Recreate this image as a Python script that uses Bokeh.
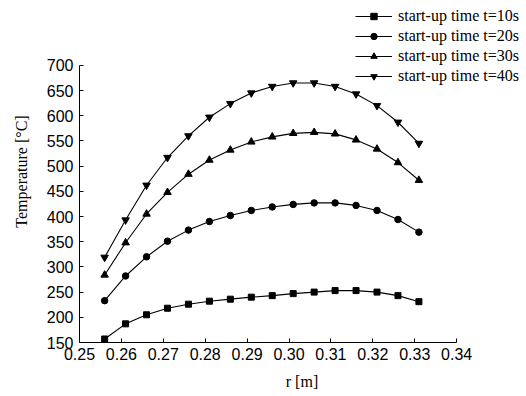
from bokeh.plotting import figure
from bokeh.models import Legend, LegendItem, Range1d, FixedTicker
from bokeh.embed import file_html
from bokeh.resources import INLINE

# ---- data ----
r = [0.256, 0.261, 0.266, 0.271, 0.276, 0.281, 0.286, 0.291,
     0.296, 0.301, 0.306, 0.311, 0.316, 0.321, 0.326, 0.331]
t10 = [157, 187, 205, 218, 226, 232, 236, 240, 243, 247, 250, 253, 253, 250, 243, 231]
t20 = [233, 282, 320, 351, 373, 390, 402, 412, 419, 424, 427, 427, 422, 412, 394, 369]
t30 = [284, 348, 405, 448, 484, 512, 532, 548, 558, 565, 567, 564, 552, 534, 507, 472]
t40 = [319, 393, 462, 517, 560, 597, 624, 645, 658, 665, 665, 658, 643, 620, 587, 545]
series_labels = ["start-up time t=10s", "start-up time t=20s",
                 "start-up time t=30s", "start-up time t=40s"]
markers = ["square", "circle", "triangle", "inverted_triangle"]
x_ticks = [0.25, 0.26, 0.27, 0.28, 0.29, 0.30, 0.31, 0.32, 0.33, 0.34]
x_tick_labels = ["0.25", "0.26", "0.27", "0.28", "0.29", "0.30", "0.31", "0.32", "0.33", "0.34"]
y_ticks = [150, 200, 250, 300, 350, 400, 450, 500, 550, 600, 650, 700]

W, H = 524, 395
p = figure(width=W, height=H, output_backend="svg", toolbar_location=None,
           x_range=Range1d(0.25, 0.3562), y_range=Range1d(150, 828.6),
           min_border_left=79, min_border_right=0, min_border_top=0,
           min_border_bottom=53)
p.outline_line_color = None
p.xgrid.grid_line_color = None
p.ygrid.grid_line_color = None
p.background_fill_color = "white"
p.border_fill_color = "white"

sizes = {"square": 6, "circle": 6.5, "triangle": 7.5, "inverted_triangle": 7.5}
items = []
for ys, lab, mk in zip([t10, t20, t30, t40], series_labels, markers):
    ln = p.line(r, ys, line_color="black", line_width=1.1)
    sc = p.scatter(r, ys, marker=mk, size=sizes[mk], fill_color="black", line_color="black")
    items.append(LegendItem(label=lab, renderers=[ln, sc]))

for ax in (p.xaxis[0], p.yaxis[0]):
    ax.axis_line_color = "black"
    ax.axis_line_width = 1
    ax.major_tick_line_color = "black"
    ax.major_tick_in = 4
    ax.major_tick_out = 0
    ax.minor_tick_line_color = None
    ax.major_label_text_font = "Liberation Sans"
    ax.major_label_text_font_size = "16px"
    ax.major_label_text_color = "black"
    ax.axis_label_text_font = "Liberation Serif"
    ax.axis_label_text_font_size = "16px"
    ax.axis_label_text_font_style = "normal"
    ax.axis_label_text_color = "black"

p.xaxis[0].ticker = FixedTicker(ticks=x_ticks)
p.xaxis[0].major_label_overrides = {t: s for t, s in zip(x_ticks, x_tick_labels)}
p.xaxis[0].bounds = (x_ticks[0], x_ticks[-1])
p.xaxis[0].axis_label = "r [m]"
p.xaxis[0].axis_label_standoff = 10
p.xaxis[0].major_label_standoff = 5

p.yaxis[0].ticker = FixedTicker(ticks=y_ticks)
p.yaxis[0].bounds = (y_ticks[0], y_ticks[-1])
p.yaxis[0].axis_label = "Temperature [°C]"
p.yaxis[0].axis_label_standoff = 14
p.yaxis[0].major_label_standoff = 6

legend = Legend(items=items, location=(276, 257), orientation="vertical",
                border_line_color=None, background_fill_alpha=0,
                padding=0, margin=0, glyph_width=37, glyph_height=16,
                label_height=16, label_standoff=6, spacing=2,
                label_text_font="Liberation Serif", label_text_font_size="16px",
                label_text_color="black")
p.add_layout(legend)

open("out.html", "w").write(file_html(p, INLINE))
